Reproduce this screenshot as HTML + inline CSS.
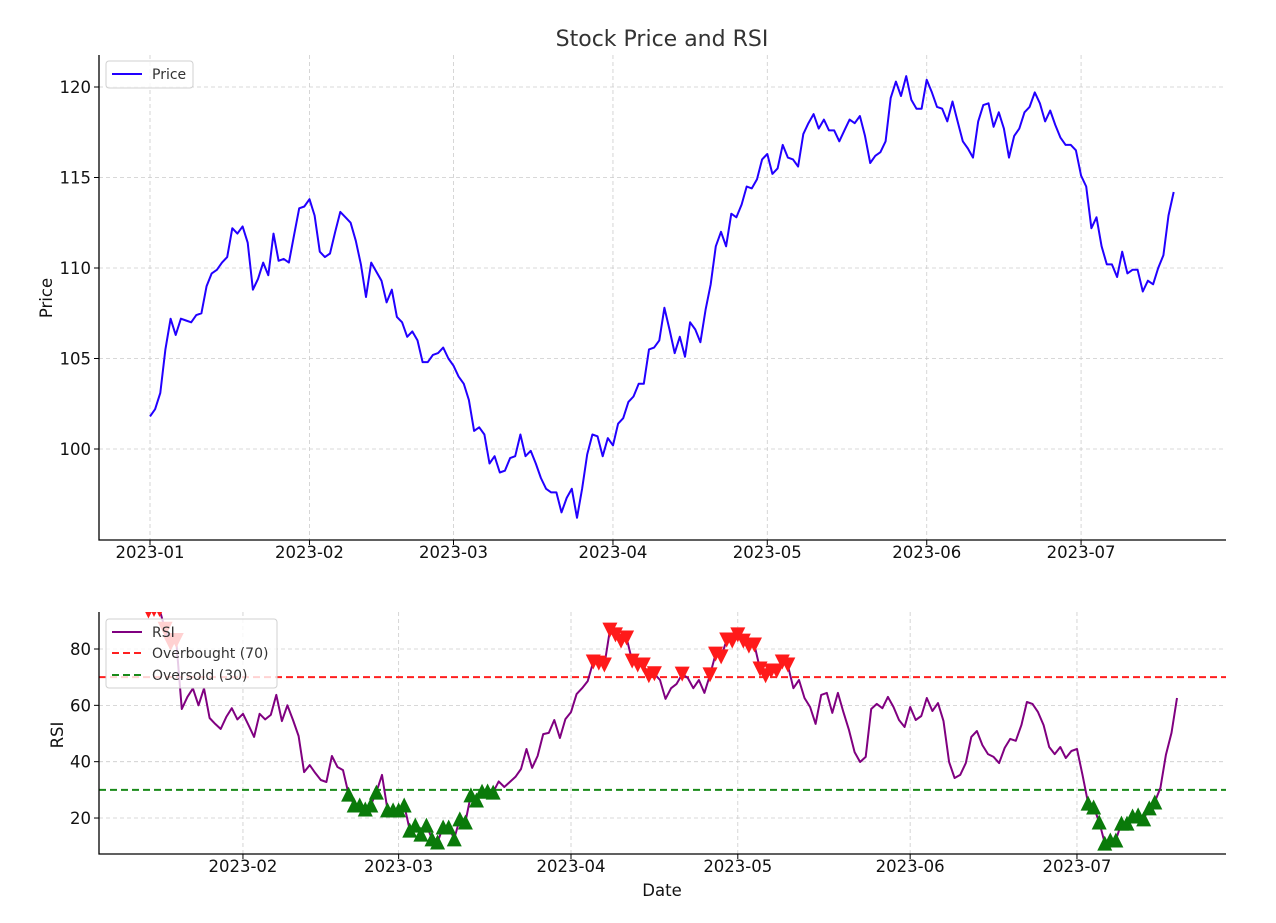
<!DOCTYPE html>
<html><head><meta charset="utf-8"><style>
html,body{margin:0;padding:0;background:#fff;}
svg{display:block;font-family:"DejaVu Sans","Liberation Sans",sans-serif;}
</style></head><body>
<svg id="chart" width="1276" height="923" viewBox="0 0 1276 923" xmlns="http://www.w3.org/2000/svg">
<defs>
<clipPath id="clipTop"><rect x="99" y="55" width="1127" height="485"/></clipPath>
<clipPath id="clipBot"><rect x="99" y="612" width="1127" height="242"/></clipPath>
</defs>
<text x="662" y="46" text-anchor="middle" font-size="22" fill="#333">Stock Price and RSI</text>
<g id="topPanel"></g>
<g id="botPanel"></g>
</svg>
<script>
const priceValues = [
101.8,102.2,103.1,105.5,107.2,106.3,107.2,107.1,107.0,107.4,
107.5,109.0,109.7,109.9,110.3,110.6,112.2,111.9,112.3,111.4,
108.8,109.4,110.3,109.6,111.9,110.4,110.5,110.3,111.8,113.3,
113.4,113.8,112.9,110.9,110.6,110.8,112.0,113.1,112.8,112.5,
111.5,110.2,108.4,110.3,109.8,109.3,108.1,108.8,107.3,107.0,
106.2,106.5,106.0,104.8,104.8,105.2,105.3,105.6,105.0,104.6,
104.0,103.6,102.7,
101.0,101.2,100.8,99.2,99.6,98.7,98.8,99.5,99.6,100.8,
99.6,99.9,99.2,98.4,97.8,97.6,97.6,96.5,97.3,97.8,
96.2,97.8,99.7,100.8,100.7,99.6,100.6,100.2,101.4,101.7,
102.6,102.9,103.6,103.6,105.5,105.6,106.0,107.8,106.6,105.3,
106.2,105.1,107.0,106.6,105.9,107.7,109.1,111.2,112.0,111.2,
113.0,112.8,113.5,114.5,114.4,114.9,
116.0,116.3,115.2,115.5,116.8,116.1,116.0,115.6,117.4,118.0,
118.5,117.7,118.2,117.6,117.6,117.0,117.6,118.2,118.0,118.4,
117.3,115.8,116.2,116.4,117.0,119.4,120.3,119.5,120.6,119.3,
118.8,118.8,120.4,119.7,118.9,118.8,118.1,119.2,118.1,117.0,
116.6,116.1,118.1,119.0,119.1,117.8,118.6,117.7,116.1,117.3,
117.7,118.6,118.9,119.7,119.1,118.1,118.7,117.9,117.2,116.8,
116.8,116.5,115.1,114.5,112.2,112.8,111.2,110.2,110.2,109.5,
110.9,109.7,109.9,109.9,108.7,109.3,109.1,110.0,110.7,112.9,
114.2];
const rsiStartDay = 14;
const rsiValues = [
93.5,94,94,87,82,83,58.7,63,66,60,66,55.5,53.4,51.6,55.9,59,55,57,53,48.8,
57,55,56.6,63.7,54.4,60,54.8,49.1,36.3,38.8,36,33.5,32.8,42,38.1,37,28.5,24.6,24.6,23.2,
24.6,29.2,35.3,22.9,22.9,22.9,24.6,15.7,17.5,14.3,17.5,12.6,11.5,16.8,16.8,12.6,19.7,18.6,28.2,26.4,
29.5,29.6,29.2,33,
31,32.8,34.6,37.4,44.5,37.8,42,49.8,50.2,54.8,48.4,55.1,57.6,64,66.1,68.6,75.4,75,74.3,86.7,
85,82.8,83.9,75.7,74.3,74.3,70.5,71.2,69,62.3,66.1,67.6,71.1,69.7,66.1,69,64.4,70.8,78.2,77.2,
83.2,82.8,85,82.8,81,81.4,72.9,70.5,72.2,72.2,75.4,74.3,66.1,69,62.6,59.4,53.4,63.7,64.4,57.3,
64.4,57.6,51.2,43.4,39.9,41.7,58.7,60.5,59,
63,59.4,54.8,52.3,59.4,54.8,56.2,62.6,58,60.8,54.4,39.9,34.2,35.3,39.5,48.8,50.9,45.9,42.7,41.7,
39.5,44.9,48.1,47.4,53,61.2,60.5,57.6,53,45.2,42.7,45.2,41.3,43.8,44.5,35.3,25.3,23.9,18.6,11.1,
12.2,12.2,18.2,18.2,20.7,21.1,19.7,23.6,25.7,30.7,42.4,50.2,62.6];
const topTickDays = [0,31,59,90,120,151,181];
const topTickLabels = ["2023-01","2023-02","2023-03","2023-04","2023-05","2023-06","2023-07"];
const botTickDays = [31,59,90,120,151,181];
const botTickLabels = ["2023-02","2023-03","2023-04","2023-05","2023-06","2023-07"];
const priceTicks = [100,105,110,115,120];
const rsiTicks = [20,40,60,80];
const overbought = 70, oversold = 30;

const NS = "http://www.w3.org/2000/svg";
function mk(parent, tag, attrs, text){
  const e = document.createElementNS(NS, tag);
  for (const k in attrs) e.setAttribute(k, attrs[k]);
  if (text !== undefined) e.textContent = text;
  parent.appendChild(e);
  return e;
}
const xTop = d => 150 + d * 5.144;
const yTop = v => 449 - (v - 100) * 18.1;
const xBot = d => 70.6 + d * 5.56;
const yBot = v => 649 - (v - 80) * 2.817;

const topG = document.getElementById('topPanel');
const botG = document.getElementById('botPanel');
const GRID = {stroke:"#cccccc","stroke-width":"0.8","stroke-dasharray":"4,3"};

topTickDays.forEach((d,i)=>{
  const x = xTop(d);
  const g = mk(topG,'line',Object.assign({x1:x,x2:x,y1:55,y2:540},GRID));
  
  
  const t = mk(topG,'line',{x1:x,x2:x,y1:540,y2:545,stroke:"#000","stroke-width":"1"});
  
  
  const l = mk(topG,'text',{x:x,y:558,"text-anchor":"middle","font-size":"16.5",fill:"#111"},topTickLabels[i]);
  
  
});
priceTicks.forEach(v=>{
  const y = yTop(v);
  const g = mk(topG,'line',Object.assign({x1:99,x2:1226,y1:y,y2:y},GRID));
  
  
  const t = mk(topG,'line',{x1:94,x2:99,y1:y,y2:y,stroke:"#000","stroke-width":"1"});
  
  
  const l = mk(topG,'text',{x:91,y:y+6,"text-anchor":"end","font-size":"16.5",fill:"#111"},String(v));
  
  
});
const pricePts = priceValues.map((v,i)=>xTop(i).toFixed(1)+','+yTop(v).toFixed(1)).join(' ');
const pl = mk(topG,'polyline',{points:pricePts,fill:"none",stroke:"#2200ff","stroke-width":"2","stroke-linejoin":"round","clip-path":"url(#clipTop)"});


const ax1 = mk(topG,'path',{d:"M99,55 V540 H1226",fill:"none",stroke:"#000","stroke-width":"1.3"});


const yl1 = mk(topG,'text',{x:0,y:0,transform:"translate(52,298) rotate(-90)","text-anchor":"middle","font-size":"16.5",fill:"#111"},"Price");


const lg1 = mk(topG,'g',{});


mk(lg1,'rect',{x:106,y:61,width:87,height:27,rx:3,fill:"#fff","fill-opacity":"0.8",stroke:"#d0d0d0","stroke-width":"1"});
mk(lg1,'line',{x1:112,x2:142,y1:74,y2:74,stroke:"#2200ff","stroke-width":"2"});
const lt1 = mk(lg1,'text',{x:152,y:79,"font-size":"14",fill:"#333"},"Price");



botTickDays.forEach((d,i)=>{
  const x = xBot(d);
  const g = mk(botG,'line',Object.assign({x1:x,x2:x,y1:612,y2:854},GRID));
  
  
  const t = mk(botG,'line',{x1:x,x2:x,y1:854,y2:859,stroke:"#000","stroke-width":"1"});
  
  
  const l = mk(botG,'text',{x:x,y:872,"text-anchor":"middle","font-size":"16.5",fill:"#111"},botTickLabels[i]);
  
  
});
rsiTicks.forEach(v=>{
  const y = yBot(v);
  const g = mk(botG,'line',Object.assign({x1:99,x2:1226,y1:y,y2:y},GRID));
  
  
  const t = mk(botG,'line',{x1:94,x2:99,y1:y,y2:y,stroke:"#000","stroke-width":"1"});
  
  
  const l = mk(botG,'text',{x:91,y:y+6,"text-anchor":"end","font-size":"16.5",fill:"#111"},String(v));
  
  
});
const ob = mk(botG,'line',{x1:99,x2:1226,y1:yBot(overbought),y2:yBot(overbought),stroke:"#ff2020","stroke-width":"2","stroke-dasharray":"7,4"});


const os = mk(botG,'line',{x1:99,x2:1226,y1:yBot(oversold),y2:yBot(oversold),stroke:"#1a8a1a","stroke-width":"2","stroke-dasharray":"7,4"});


const rsiPts = rsiValues.map((v,i)=>xBot(i+rsiStartDay).toFixed(1)+','+yBot(v).toFixed(1)).join(' ');
const rl = mk(botG,'polyline',{points:rsiPts,fill:"none",stroke:"#800080","stroke-width":"2","stroke-linejoin":"round","clip-path":"url(#clipBot)"});


const mg = mk(botG,'g',{"clip-path":"url(#clipBot)"});


const s = 7.5;
rsiValues.forEach((v,i)=>{
  const x = xBot(i+rsiStartDay), y = yBot(v);
  if (v > overbought) {
    const m = mk(mg,'polygon',{points:`${x-s},${y-s} ${x+s},${y-s} ${x},${y+s}`,fill:"#ff1a1a"});
    
    
  } else if (v < oversold) {
    const m = mk(mg,'polygon',{points:`${x-s},${y+s} ${x+s},${y+s} ${x},${y-s}`,fill:"#0a7a0a"});
    
    
  }
});
const ax2 = mk(botG,'path',{d:"M99,612 V854 H1226",fill:"none",stroke:"#000","stroke-width":"1.3"});


const yl2 = mk(botG,'text',{x:0,y:0,transform:"translate(63,735) rotate(-90)","text-anchor":"middle","font-size":"16.5",fill:"#111"},"RSI");


const xl2 = mk(botG,'text',{x:662,y:896,"text-anchor":"middle","font-size":"16.5",fill:"#111"},"Date");


const lg2 = mk(botG,'g',{});


mk(lg2,'rect',{x:106,y:619,width:171,height:69,rx:3,fill:"#fff","fill-opacity":"0.8",stroke:"#d0d0d0","stroke-width":"1"});
mk(lg2,'line',{x1:112,x2:142,y1:632,y2:632,stroke:"#800080","stroke-width":"2"});
mk(lg2,'line',{x1:112,x2:142,y1:653,y2:653,stroke:"#ff2020","stroke-width":"2","stroke-dasharray":"7,4"});
mk(lg2,'line',{x1:112,x2:142,y1:675,y2:675,stroke:"#1a8a1a","stroke-width":"2","stroke-dasharray":"7,4"});
const e1 = mk(lg2,'text',{x:152,y:637,"font-size":"14",fill:"#333"},"RSI");


const e2 = mk(lg2,'text',{x:152,y:658,"font-size":"14",fill:"#333"},"Overbought (70)");


const e3 = mk(lg2,'text',{x:152,y:680,"font-size":"14",fill:"#333"},"Oversold (30)");


</script>
</body></html>
